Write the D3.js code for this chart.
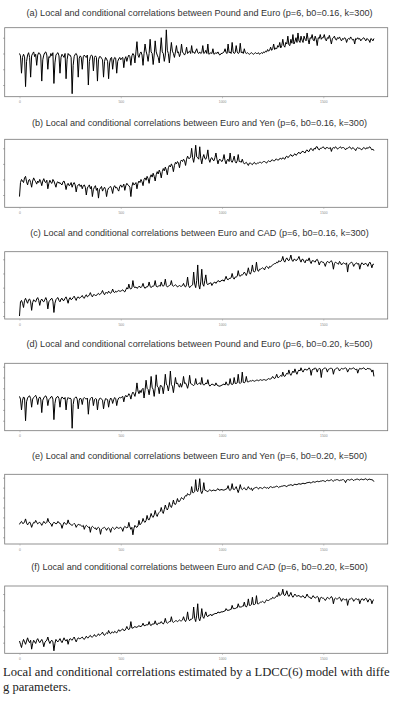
<!DOCTYPE html>
<html>
<head>
<meta charset="utf-8">
<script src="https://cdn.jsdelivr.net/npm/d3@7"></script>
<style>
  body { margin: 0; background: #fff; }
  svg { display: block; }
</style>
</head>
<body>
<svg id="mainsvg" width="394" height="707"></svg>
<script>
const step = 5

const seriesA = [
  0.60,0.57,0.35,0.55,0.59,0.56,0.18,0.50,0.58,0.61,0.55,0.30,0.57,0.60,0.62,0.56,0.59,0.45,0.58,0.61,
  0.60,0.57,0.25,0.52,0.58,0.61,0.62,0.58,0.40,0.56,0.55,0.60,0.57,0.61,0.22,0.48,0.58,0.60,0.61,0.57,
  0.35,0.55,0.59,0.57,0.55,0.60,0.28,0.52,0.60,0.58,0.58,0.55,0.09,0.45,0.56,0.59,0.60,0.57,0.30,0.54,
  0.57,0.55,0.40,0.56,0.58,0.56,0.55,0.58,0.20,0.50,0.56,0.58,0.57,0.38,0.55,0.57,0.55,0.25,0.52,0.56,
  0.56,0.54,0.52,0.30,0.50,0.55,0.53,0.50,0.28,0.48,0.54,0.55,0.40,0.52,0.55,0.54,0.35,0.50,0.53,0.55,
  0.52,0.54,0.55,0.42,0.53,0.56,0.50,0.55,0.58,0.56,0.45,0.57,0.60,0.58,0.48,0.62,0.75,0.58,0.55,0.60,
  0.62,0.58,0.45,0.60,0.72,0.63,0.58,0.50,0.60,0.78,0.62,0.60,0.46,0.58,0.76,0.62,0.58,0.55,0.48,0.63,
  0.80,0.62,0.60,0.50,0.58,0.90,0.64,0.60,0.48,0.62,0.74,0.63,0.60,0.55,0.62,0.70,0.61,0.62,0.56,0.60,
  0.72,0.62,0.60,0.58,0.61,0.68,0.60,0.62,0.63,0.60,0.70,0.61,0.62,0.60,0.63,0.66,0.61,0.60,0.62,0.60,
  0.61,0.70,0.60,0.61,0.64,0.60,0.72,0.59,0.60,0.61,0.60,0.66,0.59,0.60,0.61,0.60,0.62,0.59,0.58,0.60,
  0.60,0.61,0.62,0.66,0.61,0.60,0.72,0.61,0.62,0.60,0.74,0.62,0.60,0.61,0.70,0.62,0.60,0.61,0.73,0.61,
  0.62,0.60,0.66,0.61,0.60,0.61,0.60,0.59,0.60,0.61,0.60,0.59,0.60,0.61,0.60,0.60,0.61,0.59,0.60,0.61,
  0.60,0.62,0.61,0.63,0.62,0.65,0.63,0.64,0.68,0.64,0.66,0.72,0.65,0.67,0.66,0.70,0.68,0.74,0.67,0.70,
  0.78,0.70,0.68,0.74,0.72,0.82,0.71,0.70,0.78,0.73,0.84,0.72,0.75,0.80,0.74,0.86,0.76,0.74,0.82,0.77,
  0.74,0.82,0.78,0.76,0.86,0.78,0.72,0.80,0.79,0.84,0.77,0.76,0.82,0.78,0.70,0.80,0.79,0.84,0.78,0.80,
  0.80,0.84,0.78,0.76,0.80,0.79,0.83,0.78,0.72,0.79,0.80,0.82,0.78,0.77,0.80,0.79,0.81,0.78,0.76,0.79,
  0.78,0.80,0.79,0.74,0.78,0.79,0.78,0.81,0.79,0.77,0.78,0.72,0.79,0.78,0.80,0.78,0.79,0.76,0.78,0.79,
  0.80,0.78,0.76,0.79,0.78,0.77,0.74,0.79,0.78,0.76,0.79
]
const seriesB = [
  0.18,0.36,0.40,0.38,0.36,0.42,0.44,0.37,0.33,0.39,0.40,0.36,0.30,0.38,0.42,0.39,0.37,0.34,0.38,0.36,
  0.40,0.37,0.32,0.38,0.41,0.37,0.36,0.39,0.28,0.35,0.39,0.36,0.35,0.40,0.38,0.34,0.30,0.36,0.37,0.35,
  0.36,0.34,0.33,0.37,0.38,0.34,0.27,0.33,0.35,0.32,0.33,0.36,0.30,0.34,0.36,0.33,0.24,0.31,0.33,0.34,
  0.31,0.33,0.28,0.32,0.33,0.30,0.20,0.29,0.31,0.33,0.28,0.31,0.18,0.27,0.30,0.32,0.26,0.29,0.16,0.27,
  0.29,0.31,0.25,0.28,0.30,0.27,0.18,0.26,0.29,0.30,0.31,0.28,0.22,0.30,0.32,0.29,0.30,0.27,0.25,0.31,
  0.33,0.30,0.31,0.34,0.26,0.32,0.35,0.33,0.32,0.30,0.18,0.31,0.36,0.33,0.34,0.36,0.28,0.35,0.38,0.36,
  0.40,0.37,0.32,0.40,0.42,0.39,0.44,0.41,0.35,0.43,0.46,0.43,0.48,0.44,0.38,0.46,0.50,0.47,0.52,0.49,
  0.42,0.50,0.54,0.51,0.56,0.52,0.46,0.55,0.58,0.56,0.60,0.57,0.50,0.58,0.62,0.60,0.63,0.61,0.55,0.63,
  0.65,0.63,0.66,0.64,0.58,0.66,0.70,0.67,0.67,0.69,0.80,0.68,0.62,0.70,0.84,0.69,0.68,0.66,0.82,0.67,
  0.60,0.68,0.72,0.67,0.66,0.70,0.78,0.66,0.62,0.67,0.68,0.65,0.64,0.68,0.74,0.66,0.60,0.65,0.66,0.64,
  0.63,0.66,0.72,0.64,0.60,0.65,0.66,0.63,0.74,0.64,0.62,0.65,0.70,0.63,0.61,0.64,0.72,0.63,0.63,0.62,
  0.66,0.62,0.60,0.61,0.62,0.60,0.58,0.61,0.61,0.60,0.59,0.61,0.62,0.60,0.60,0.61,0.61,0.62,0.62,0.61,
  0.62,0.63,0.63,0.62,0.61,0.63,0.64,0.63,0.63,0.65,0.65,0.64,0.64,0.66,0.66,0.65,0.65,0.67,0.67,0.66,
  0.68,0.67,0.66,0.69,0.70,0.68,0.69,0.71,0.72,0.70,0.70,0.72,0.73,0.71,0.72,0.74,0.75,0.73,0.74,0.76,
  0.76,0.75,0.74,0.77,0.78,0.76,0.76,0.79,0.80,0.78,0.77,0.80,0.79,0.82,0.82,0.79,0.78,0.80,0.80,0.81,
  0.82,0.80,0.79,0.81,0.81,0.80,0.80,0.81,0.76,0.80,0.81,0.80,0.82,0.81,0.79,0.80,0.81,0.82,0.80,0.81,
  0.81,0.80,0.78,0.80,0.80,0.81,0.82,0.80,0.79,0.81,0.80,0.79,0.77,0.80,0.81,0.80,0.80,0.79,0.78,0.80,
  0.81,0.80,0.79,0.81,0.80,0.81,0.82,0.80,0.78,0.79,0.77
]
const seriesC = [
  0.00,0.20,0.22,0.18,0.12,0.22,0.25,0.21,0.18,0.23,0.24,0.20,0.08,0.19,0.23,0.21,0.20,0.24,0.26,0.22,
  0.15,0.22,0.24,0.21,0.20,0.23,0.26,0.22,0.10,0.20,0.22,0.24,0.25,0.21,0.05,0.18,0.23,0.25,0.26,0.22,
  0.20,0.24,0.25,0.22,0.22,0.25,0.27,0.23,0.18,0.24,0.26,0.23,0.24,0.26,0.28,0.25,0.22,0.26,0.27,0.25,
  0.26,0.27,0.29,0.26,0.25,0.28,0.30,0.27,0.28,0.30,0.33,0.29,0.27,0.30,0.30,0.29,0.29,0.31,0.32,0.30,
  0.31,0.33,0.36,0.32,0.30,0.33,0.33,0.32,0.35,0.33,0.32,0.34,0.38,0.34,0.33,0.35,0.34,0.35,0.36,0.35,
  0.35,0.36,0.37,0.35,0.34,0.37,0.40,0.38,0.45,0.39,0.38,0.40,0.50,0.41,0.40,0.41,0.39,0.40,0.42,0.41,
  0.40,0.42,0.46,0.41,0.39,0.41,0.41,0.42,0.48,0.42,0.40,0.42,0.42,0.43,0.50,0.42,0.41,0.42,0.43,0.42,
  0.48,0.43,0.42,0.44,0.52,0.43,0.41,0.42,0.43,0.44,0.50,0.43,0.42,0.43,0.44,0.43,0.41,0.42,0.43,0.42,
  0.42,0.43,0.46,0.42,0.41,0.44,0.55,0.43,0.40,0.42,0.43,0.44,0.62,0.45,0.40,0.50,0.72,0.44,0.38,0.48,
  0.66,0.45,0.42,0.50,0.58,0.46,0.44,0.46,0.46,0.47,0.43,0.46,0.47,0.48,0.46,0.48,0.50,0.49,0.48,0.50,
  0.50,0.51,0.49,0.52,0.56,0.52,0.51,0.53,0.53,0.54,0.60,0.54,0.52,0.55,0.55,0.56,0.64,0.57,0.56,0.58,
  0.58,0.59,0.62,0.60,0.57,0.61,0.68,0.61,0.59,0.63,0.72,0.63,0.62,0.64,0.76,0.65,0.63,0.66,0.66,0.67,
  0.68,0.67,0.65,0.69,0.70,0.69,0.67,0.70,0.69,0.71,0.72,0.73,0.74,0.74,0.76,0.75,0.78,0.77,0.77,0.79,
  0.84,0.78,0.76,0.80,0.82,0.79,0.78,0.81,0.86,0.79,0.77,0.80,0.80,0.78,0.79,0.81,0.84,0.79,0.76,0.80,
  0.80,0.77,0.75,0.79,0.79,0.78,0.82,0.77,0.74,0.78,0.78,0.77,0.76,0.79,0.80,0.77,0.72,0.76,0.77,0.76,
  0.76,0.74,0.70,0.75,0.77,0.76,0.75,0.77,0.78,0.75,0.66,0.74,0.76,0.75,0.74,0.73,0.77,0.75,0.72,0.74,
  0.75,0.74,0.73,0.75,0.62,0.72,0.74,0.75,0.76,0.74,0.70,0.73,0.74,0.75,0.73,0.74,0.66,0.72,0.75,0.74,
  0.72,0.74,0.74,0.73,0.70,0.74,0.76,0.73,0.68,0.73,0.73
]
const seriesD = [
  0.25,0.20,0.00,0.18,0.24,0.22,-0.20,0.15,0.22,0.25,0.26,0.21,0.05,0.20,0.23,0.25,0.27,0.22,0.10,0.21,
  0.24,0.20,-0.05,0.18,0.22,0.25,0.26,0.22,0.08,0.19,0.21,0.24,0.25,0.20,-0.18,0.12,0.22,0.24,0.25,0.21,
  0.05,0.20,0.24,0.22,0.20,0.23,0.00,0.18,0.23,0.21,0.22,0.20,-0.34,0.10,0.21,0.23,0.24,0.20,0.02,0.18,
  0.22,0.20,0.10,0.21,0.23,0.21,0.20,0.22,-0.08,0.15,0.21,0.23,0.23,0.08,0.19,0.21,0.20,0.00,0.16,0.21,
  0.22,0.20,0.18,0.02,0.15,0.21,0.20,0.19,0.05,0.17,0.22,0.20,0.12,0.19,0.23,0.21,0.08,0.18,0.22,0.23,
  0.22,0.24,0.25,0.15,0.24,0.27,0.24,0.26,0.30,0.27,0.20,0.29,0.33,0.30,0.25,0.34,0.50,0.35,0.30,0.36,
  0.32,0.38,0.40,0.22,0.36,0.55,0.40,0.38,0.28,0.40,0.62,0.42,0.38,0.25,0.40,0.65,0.44,0.42,0.30,0.45,
  0.45,0.42,0.30,0.44,0.66,0.48,0.45,0.35,0.46,0.72,0.47,0.44,0.32,0.46,0.60,0.48,0.50,0.45,0.42,0.49,
  0.42,0.48,0.62,0.49,0.50,0.46,0.40,0.48,0.64,0.49,0.48,0.46,0.45,0.47,0.58,0.48,0.47,0.49,0.50,0.47,
  0.60,0.48,0.46,0.47,0.50,0.48,0.56,0.47,0.44,0.46,0.48,0.47,0.46,0.45,0.50,0.46,0.45,0.44,0.44,0.45,
  0.46,0.47,0.48,0.46,0.52,0.47,0.46,0.47,0.58,0.48,0.47,0.48,0.60,0.49,0.49,0.50,0.66,0.50,0.49,0.51,
  0.70,0.51,0.50,0.52,0.62,0.52,0.52,0.53,0.54,0.53,0.55,0.54,0.53,0.54,0.55,0.55,0.54,0.55,0.56,0.55,
  0.55,0.56,0.56,0.55,0.55,0.57,0.58,0.57,0.57,0.59,0.62,0.59,0.58,0.61,0.66,0.60,0.60,0.62,0.64,0.62,
  0.70,0.63,0.62,0.65,0.68,0.66,0.74,0.67,0.64,0.68,0.72,0.69,0.76,0.70,0.66,0.71,0.74,0.72,0.78,0.73,
  0.70,0.74,0.76,0.74,0.74,0.75,0.78,0.75,0.64,0.74,0.76,0.75,0.78,0.76,0.70,0.75,0.77,0.76,0.60,0.74,
  0.76,0.77,0.78,0.76,0.70,0.75,0.76,0.77,0.77,0.76,0.66,0.74,0.76,0.77,0.78,0.76,0.72,0.75,0.77,0.76,
  0.76,0.77,0.78,0.76,0.70,0.74,0.77,0.76,0.76,0.77,0.78,0.76,0.74,0.76,0.68,0.74,0.77,0.76,0.76,0.77,
  0.78,0.76,0.74,0.76,0.77,0.76,0.76,0.75,0.70,0.74,0.62
]
const seriesE = [
  -0.14,-0.10,-0.08,-0.12,-0.12,-0.09,-0.03,-0.11,-0.15,-0.12,-0.09,-0.13,-0.20,-0.14,-0.10,-0.11,-0.06,-0.10,-0.13,-0.11,
  -0.10,-0.12,-0.16,-0.12,-0.08,-0.11,-0.12,-0.10,-0.02,-0.09,-0.11,-0.13,-0.18,-0.12,-0.10,-0.11,-0.13,-0.12,-0.08,-0.11,
  -0.12,-0.14,-0.22,-0.15,-0.10,-0.12,-0.14,-0.13,-0.05,-0.12,-0.13,-0.15,-0.16,-0.14,-0.12,-0.14,-0.20,-0.16,-0.14,-0.15,
  -0.15,-0.17,-0.18,-0.16,-0.24,-0.18,-0.16,-0.18,-0.20,-0.19,-0.30,-0.20,-0.18,-0.20,-0.22,-0.21,-0.25,-0.21,-0.20,-0.22,
  -0.34,-0.24,-0.22,-0.21,-0.20,-0.22,-0.26,-0.22,-0.21,-0.23,-0.30,-0.22,-0.20,-0.22,-0.24,-0.22,-0.19,-0.21,-0.22,-0.21,
  -0.20,-0.22,-0.28,-0.21,-0.18,-0.20,-0.21,-0.20,-0.10,-0.19,-0.24,-0.20,-0.35,-0.22,-0.16,-0.19,-0.20,-0.17,-0.06,-0.15,
  -0.12,-0.10,-0.02,-0.08,-0.10,-0.06,0.04,-0.04,-0.05,0.00,0.08,0.02,0.00,0.05,0.14,0.06,0.02,0.08,0.10,0.12,
  0.20,0.12,0.08,0.16,0.25,0.18,0.15,0.20,0.30,0.22,0.20,0.26,0.35,0.27,0.26,0.30,0.38,0.32,0.32,0.36,
  0.40,0.38,0.36,0.41,0.44,0.43,0.48,0.46,0.45,0.48,0.62,0.50,0.50,0.52,0.76,0.54,0.52,0.60,0.78,0.53,
  0.48,0.54,0.70,0.55,0.54,0.53,0.52,0.54,0.56,0.54,0.53,0.55,0.55,0.54,0.54,0.56,0.58,0.55,0.55,0.56,
  0.56,0.55,0.55,0.56,0.57,0.58,0.64,0.56,0.54,0.57,0.68,0.57,0.56,0.58,0.62,0.56,0.50,0.57,0.66,0.58,
  0.56,0.58,0.60,0.57,0.55,0.58,0.62,0.58,0.57,0.59,0.54,0.58,0.59,0.60,0.61,0.59,0.57,0.60,0.60,0.59,
  0.58,0.60,0.61,0.60,0.59,0.60,0.58,0.61,0.62,0.61,0.60,0.61,0.61,0.62,0.63,0.62,0.60,0.62,0.62,0.63,
  0.63,0.64,0.64,0.63,0.62,0.64,0.65,0.65,0.66,0.65,0.64,0.66,0.67,0.66,0.66,0.67,0.68,0.67,0.67,0.68,
  0.69,0.68,0.68,0.69,0.70,0.70,0.71,0.70,0.69,0.71,0.72,0.71,0.71,0.72,0.73,0.72,0.72,0.73,0.73,0.74,
  0.74,0.73,0.72,0.74,0.75,0.74,0.74,0.75,0.76,0.74,0.73,0.75,0.75,0.76,0.76,0.75,0.74,0.75,0.75,0.76,
  0.76,0.74,0.70,0.75,0.76,0.76,0.75,0.76,0.77,0.76,0.74,0.76,0.76,0.77,0.77,0.76,0.75,0.77,0.77,0.76,
  0.76,0.77,0.78,0.76,0.75,0.77,0.77,0.76,0.76,0.75,0.72
]
const seriesF = [
  0.22,0.18,0.14,0.20,0.24,0.21,0.18,0.22,0.26,0.22,0.20,0.23,0.12,0.19,0.23,0.21,0.19,0.23,0.25,0.22,
  0.20,0.22,0.24,0.21,0.15,0.20,0.22,0.23,0.27,0.22,0.19,0.22,0.23,0.21,0.10,0.19,0.24,0.22,0.21,0.23,
  0.25,0.22,0.20,0.23,0.26,0.23,0.22,0.24,0.18,0.23,0.25,0.24,0.23,0.25,0.27,0.24,0.21,0.24,0.26,0.25,
  0.25,0.26,0.27,0.25,0.24,0.26,0.28,0.26,0.26,0.28,0.29,0.27,0.27,0.28,0.30,0.28,0.28,0.29,0.31,0.29,
  0.30,0.31,0.33,0.30,0.29,0.31,0.32,0.31,0.35,0.32,0.31,0.33,0.33,0.32,0.34,0.33,0.32,0.34,0.36,0.34,
  0.35,0.36,0.37,0.35,0.35,0.37,0.40,0.37,0.36,0.38,0.46,0.38,0.38,0.39,0.40,0.39,0.39,0.40,0.41,0.40,
  0.40,0.41,0.44,0.41,0.41,0.42,0.42,0.42,0.46,0.42,0.41,0.43,0.43,0.43,0.47,0.43,0.42,0.44,0.44,0.44,
  0.46,0.44,0.43,0.45,0.50,0.45,0.44,0.45,0.46,0.46,0.52,0.46,0.45,0.46,0.47,0.47,0.46,0.47,0.48,0.47,
  0.47,0.48,0.52,0.48,0.46,0.49,0.58,0.49,0.47,0.49,0.49,0.50,0.64,0.50,0.46,0.54,0.68,0.50,0.47,0.52,
  0.62,0.52,0.50,0.54,0.58,0.53,0.52,0.54,0.54,0.55,0.53,0.55,0.55,0.56,0.56,0.56,0.58,0.57,0.57,0.58,
  0.58,0.58,0.59,0.59,0.62,0.60,0.60,0.60,0.61,0.61,0.66,0.62,0.62,0.62,0.63,0.63,0.68,0.64,0.64,0.64,
  0.65,0.65,0.70,0.65,0.64,0.66,0.74,0.66,0.66,0.67,0.76,0.67,0.67,0.68,0.78,0.68,0.68,0.69,0.70,0.70,
  0.71,0.70,0.69,0.71,0.73,0.72,0.72,0.73,0.74,0.74,0.76,0.75,0.75,0.76,0.78,0.77,0.82,0.78,0.79,0.80,
  0.86,0.79,0.78,0.80,0.84,0.79,0.77,0.79,0.82,0.78,0.76,0.78,0.80,0.78,0.77,0.78,0.78,0.77,0.76,0.77,
  0.78,0.76,0.75,0.77,0.80,0.77,0.76,0.76,0.74,0.76,0.78,0.76,0.75,0.76,0.77,0.76,0.70,0.75,0.76,0.75,
  0.75,0.74,0.72,0.74,0.76,0.75,0.74,0.75,0.77,0.75,0.68,0.74,0.75,0.74,0.74,0.75,0.76,0.74,0.71,0.74,
  0.74,0.73,0.73,0.74,0.66,0.72,0.74,0.74,0.75,0.74,0.71,0.73,0.74,0.74,0.73,0.74,0.68,0.72,0.74,0.74,
  0.72,0.74,0.75,0.73,0.70,0.73,0.74,0.73,0.68,0.72,0.73
]

const titles = [
  '(a) Local and conditional correlations between Pound and Euro (p=6, b0=0.16, k=300)',
  '(b) Local and conditional correlations between Euro and Yen (p=6, b0=0.16, k=300)',
  '(c) Local and conditional correlations between Euro and CAD (p=6, b0=0.16, k=300)',
  '(d) Local and conditional correlations between Pound and Euro (p=6, b0=0.20, k=500)',
  '(e) Local and conditional correlations between Euro and Yen (p=6, b0=0.20, k=500)',
  '(f) Local and conditional correlations between Euro and CAD (p=6, b0=0.20, k=500)'
]

const xTicks = [0, 500, 1000, 1500]
const xDomain = [-73, 1818]

const yTicksA = [0.2, 0.4, 0.6, 0.8]
const yTicksB = [0.2, 0.4, 0.6, 0.8]
const yTicksC = [0, 0.2, 0.4, 0.6, 0.8]
const yTicksD = [-0.2, 0, 0.2, 0.4, 0.6, 0.8]
const yTicksE = [-0.4, -0.2, 0, 0.2, 0.4, 0.6, 0.8]
const yTicksF = [0.2, 0.4, 0.6, 0.8]

const yDomainA = [0.052, 0.927]
const yDomainB = [0.042, 0.916]
const yDomainC = [-0.042, 0.907]
const yDomainD = [-0.385, 0.863]
const yDomainE = [-0.535, 0.868]
const yDomainF = [0.069, 0.899]

// the page is cropped on the right, only this much of the caption shows
const captionLines = [
  'Local and conditional correlations estimated by a LDCC(6) model with diffe',
  'g parameters.'
]

// layout: box top / bottom and title line for each panel
const boxLeft = 4.7, boxRight = 387.7
const panels = [
  {data: seriesA, ticks: yTicksA, dom: yDomainA, top: 27.7,  bottom: 96.7,  titleY: 13},
  {data: seriesB, ticks: yTicksB, dom: yDomainB, top: 139.3, bottom: 207.3, titleY: 123.3},
  {data: seriesC, ticks: yTicksC, dom: yDomainC, top: 251.7, bottom: 319,   titleY: 233.3},
  {data: seriesD, ticks: yTicksD, dom: yDomainD, top: 363.3, bottom: 430.7, titleY: 344},
  {data: seriesE, ticks: yTicksE, dom: yDomainE, top: 474.3, bottom: 544,   titleY: 456},
  {data: seriesF, ticks: yTicksF, dom: yDomainF, top: 586,   bottom: 653.3, titleY: 567.3}
]

const svg = d3.select('#mainsvg')

const x = d3.scaleLinear().domain(xDomain).range([boxLeft, boxRight])

panels.forEach((p, k) => {
  const g = svg.append('g').attr('id', `panel${k}`)
  const y = d3.scaleLinear().domain(p.dom).range([p.bottom, p.top])

  g.append('text')
    .attr('x', 199.5)
    .attr('y', p.titleY)
    .attr('dy', '0.35em')
    .attr('text-anchor', 'middle')
    .style('font-family', 'Liberation Sans, Arial, sans-serif')
    .style('font-size', '9.1px')
    .style('fill', '#333')
    .text(titles[k])

  // the series
  const line = d3.line()
    .x((d, i) => x(i * step))
    .y(d => y(d))
  g.append('path')
    .datum(p.data)
    .attr('d', line)
    .attr('fill', 'none')
    .attr('stroke', '#000')
    .attr('stroke-width', 1)

  // box
  g.append('rect')
    .attr('x', boxLeft)
    .attr('y', p.top)
    .attr('width', boxRight - boxLeft)
    .attr('height', p.bottom - p.top)
    .attr('fill', 'none')
    .attr('stroke', '#777')
    .attr('stroke-width', 0.8)

  // y ticks (their labels fall outside the crop)
  const yAxis = d3.axisLeft(y).tickValues(p.ticks).tickSize(1.6).tickFormat('')
  g.append('g')
    .attr('transform', `translate(${boxLeft},0)`)
    .call(yAxis)
    .call(a => a.select('.domain').remove())
    .call(a => a.selectAll('line').attr('stroke', '#777').attr('stroke-width', 0.6))

  // x ticks
  const xAxis = d3.axisBottom(x).tickValues(xTicks).tickSize(1.6).tickPadding(2.5)
    .tickFormat(d3.format('d'))
  g.append('g')
    .attr('transform', `translate(0,${p.bottom})`)
    .call(xAxis)
    .call(a => a.select('.domain').remove())
    .call(a => a.selectAll('line').attr('stroke', '#999').attr('stroke-width', 0.5))
    .call(a => a.selectAll('text')
      .style('font-family', 'Liberation Sans, Arial, sans-serif')
      .style('font-size', '3.4px')
      .style('fill', '#888'))
})

svg.selectAll('.caption')
  .data(captionLines)
  .join('text')
  .attr('class', 'caption')
  .attr('x', 3)
  .attr('y', (d, i) => 675.5 + i * 15)
  .style('font-family', 'Liberation Serif, Times New Roman, serif')
  .style('font-size', '12.6px')
  .style('fill', '#222')
  .text(d => d)
</script>
</body>
</html>
